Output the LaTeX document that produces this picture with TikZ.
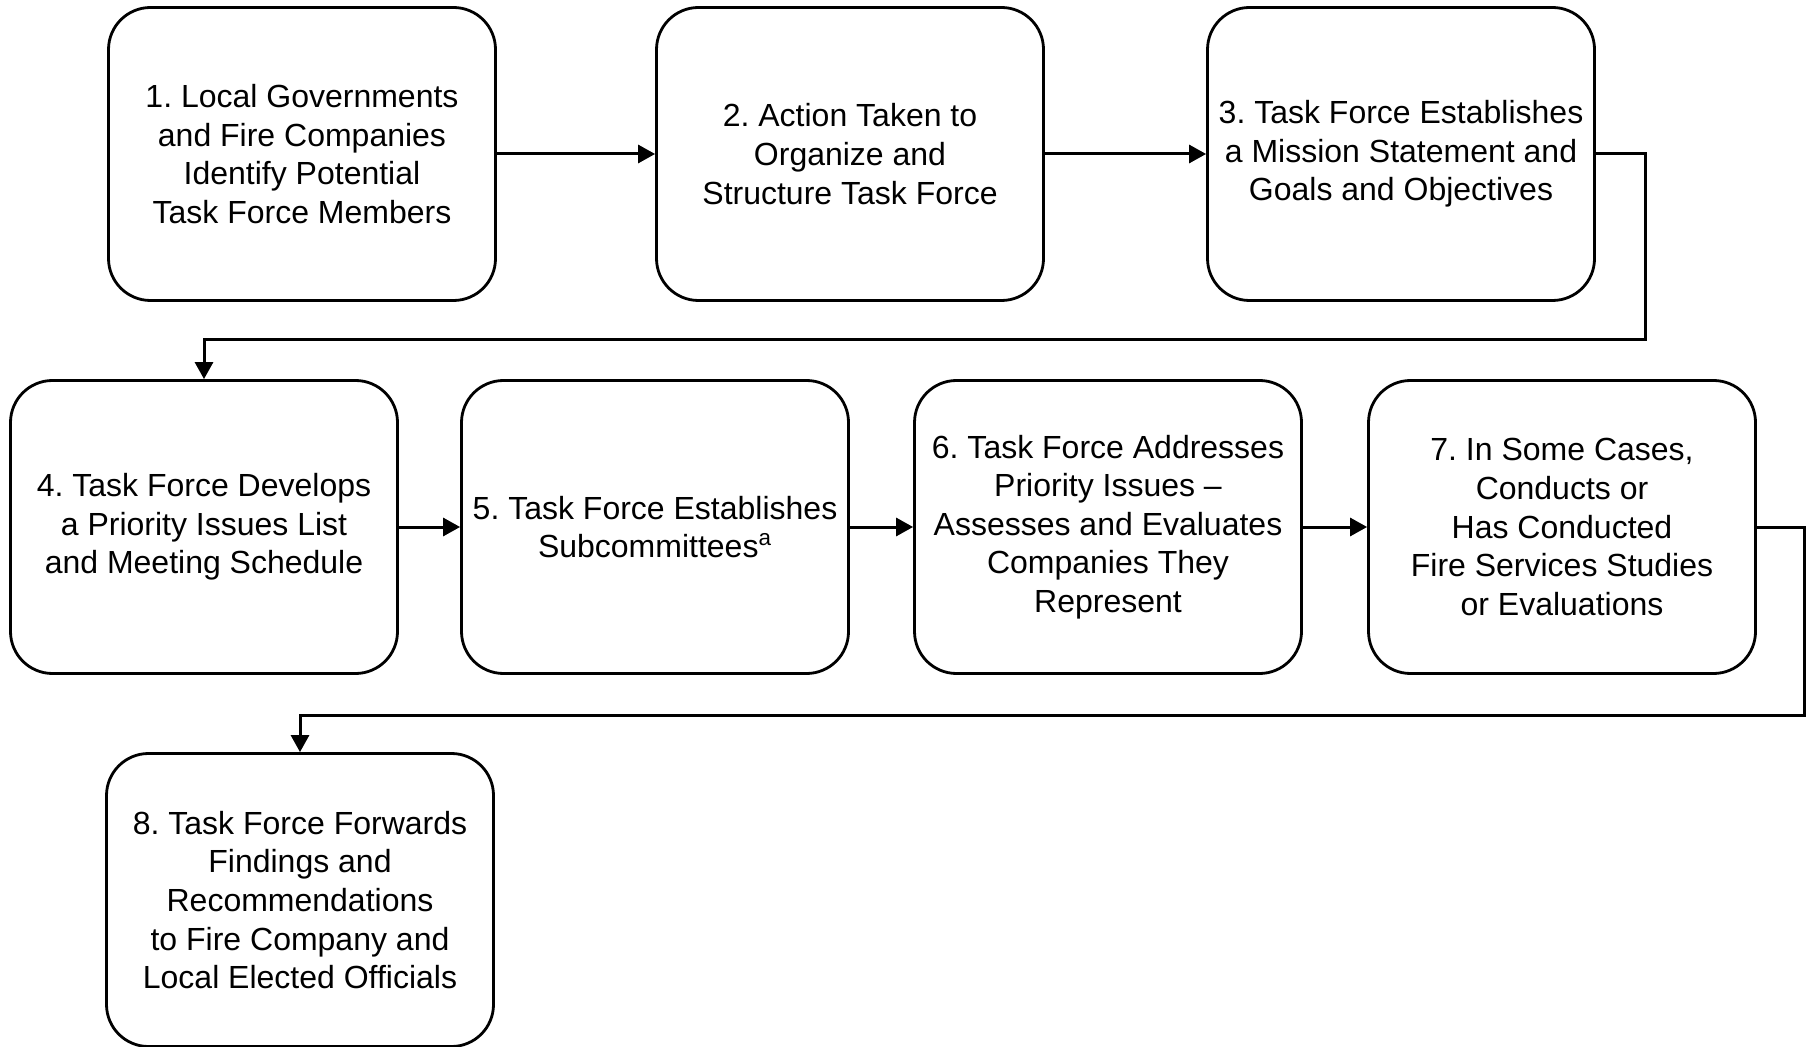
\documentclass[tikz,border=0pt]{standalone}
\usepackage{fontspec}
\setmainfont{Liberation Sans}
\usetikzlibrary{arrows.meta}
\frenchspacing
\begin{document}
\begin{tikzpicture}[x=0.5pt,y=-0.5pt,
  stage/.style={draw,line width=1.4pt,rounded corners=21pt,align=center,
    minimum width=193.5pt,minimum height=146.5pt,inner sep=2pt,
    font=\fontsize{16}{19.3}\selectfont},
  flow/.style={line width=1.5pt,-{Triangle[length=8.5pt,width=9pt]}}]
\useasboundingbox (0,0) rectangle (1808,1047);

% First row
\node[stage] (s1) at (302,154) {1. Local Governments\\and Fire Companies\\Identify Potential\\Task Force Members};
\node[stage] (s2) at (850,154) {2. Action Taken to\\Organize and\\Structure Task Force};
\node[stage] (s3) at (1401,154) {3. Task Force Establishes\\a Mission Statement and\\Goals and Objectives};

% Second row
\node[stage] (s4) at (204,527) {4. Task Force Develops\\a Priority Issues List\\and Meeting Schedule};
\node[stage] (s5) at (655,527) {5. Task Force Establishes\\Subcommittees\textsuperscript{a}};
\node[stage] (s6) at (1108,527) {6. Task Force Addresses\\Priority Issues --\\Assesses and Evaluates\\Companies They\\Represent};
\node[stage] (s7) at (1562,527) {7. In Some Cases,\\Conducts or\\Has Conducted\\Fire Services Studies\\or Evaluations};

% Third row
\node[stage] (s8) at (300,900) {8. Task Force Forwards\\Findings and\\Recommendations\\to Fire Company and\\Local Elected Officials};

% Bends between rows
\coordinate (turn1) at (1645,340);
\coordinate (turn2) at (1804,715);

% Arrows
\draw[flow] (s1) -- (s2);
\draw[flow] (s2) -- (s3);
\draw[flow] (s3.east) -| (turn1) -| (s4.north);
\draw[flow] (s4) -- (s5);
\draw[flow] (s5) -- (s6);
\draw[flow] (s6) -- (s7);
\draw[flow] (s7.east) -| (turn2) -| (s8.north);

\end{tikzpicture}
\end{document}
